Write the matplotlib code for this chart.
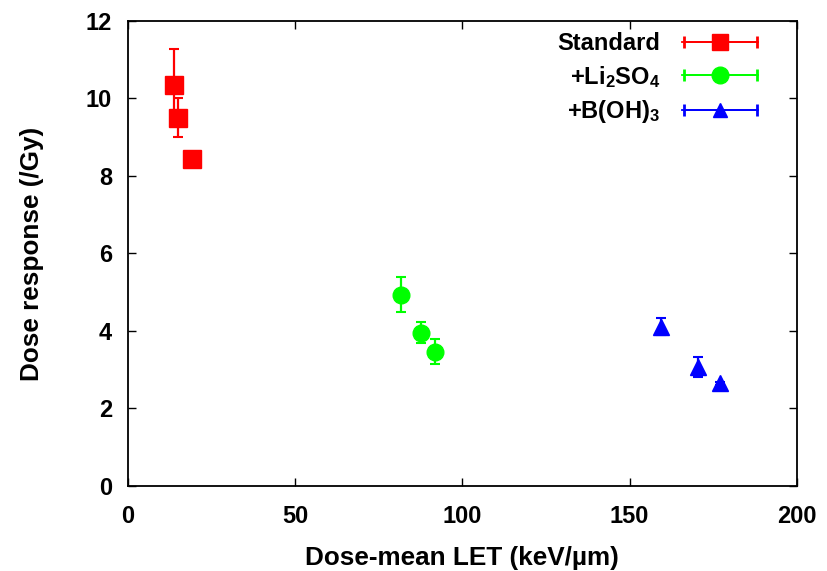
import matplotlib
matplotlib.use("Agg")
import matplotlib.pyplot as plt
from matplotlib.container import ErrorbarContainer
from matplotlib.legend_handler import HandlerErrorbar

plt.rcParams['font.family'] = ['Liberation Sans', 'DejaVu Sans']
plt.rcParams['font.weight'] = 'bold'
plt.rcParams['mathtext.fontset'] = 'custom'
plt.rcParams['mathtext.rm'] = 'Liberation Sans:bold'
plt.rcParams['mathtext.default'] = 'rm'

# Standard
std_let = [14.0, 15.0, 19.4]
std_resp = [10.35, 9.5, 8.45]
std_err = [0.93, 0.5, 0.05]

# +Li2SO4
li_let = [81.6, 87.6, 91.8]
li_resp = [4.94, 3.96, 3.46]
li_err = [0.45, 0.28, 0.32]

# +B(OH)3
b_let = [159.3, 170.4, 177.0]
b_resp = [4.11, 3.07, 2.65]
b_err = [0.22, 0.25, 0.04]

labels = ["Standard", "+Li$_2$SO$_4$", "+B(OH)$_3$"]

fig = plt.figure(figsize=(8.27, 5.71), dpi=100)
ax = fig.add_axes([0.1542, 0.1489, 0.8095, 0.8144])

ax.errorbar(std_let, std_resp, yerr=std_err, fmt="s", color="#ff0000", ms=12.5, capsize=3.5, elinewidth=1.6, capthick=1.5)
ax.errorbar(li_let, li_resp, yerr=li_err, fmt="o", color="#00ff00", ms=12, capsize=3.5, elinewidth=1.6, capthick=1.5)
ax.errorbar(b_let, b_resp, yerr=b_err, fmt="^", color="#0000ff", ms=11, capsize=3.5, elinewidth=1.6, capthick=1.5)

# legend proxies with horizontal bars (gnuplot style), nothing drawn in the axes
nan = float("nan")
h1 = ax.errorbar([nan], [nan], xerr=[nan], fmt="s-", color="#ff0000", ms=12, capsize=4, lw=1.3, capthick=2)
h2 = ax.errorbar([nan], [nan], xerr=[nan], fmt="o-", color="#00ff00", ms=12, capsize=4, lw=1.3, capthick=2)
h3 = ax.errorbar([nan], [nan], xerr=[nan], fmt="^-", color="#0000ff", ms=10, capsize=4, lw=1.3, capthick=2)
ax.legend([h1, h2, h3], labels, loc="upper right", bbox_to_anchor=(0.9417, 0.976),
          frameon=False, markerfirst=False, prop={'size': 17, 'weight': 'bold'},
          handlelength=3.2, handletextpad=0.95, labelspacing=0.36,
          borderpad=0, borderaxespad=0,
          handler_map={ErrorbarContainer: HandlerErrorbar(xerr_size=1.55)})

ax.set_xlim(0, 200)
ax.set_ylim(0, 12)
ax.set_xticks([0, 50, 100, 150, 200])
ax.set_yticks([0, 2, 4, 6, 8, 10, 12])
ax.tick_params(direction="in", top=True, right=True, length=6, width=1, labelsize=17)
ax.tick_params(axis="x", pad=13.5)
ax.tick_params(axis="y", pad=11)
for s in ax.spines.values():
    s.set_linewidth(1.3)
ax.set_xlabel("Dose-mean LET (keV/µm)", fontsize=18.8, fontweight="bold", labelpad=13)
ax.set_ylabel("Dose response (/Gy)", fontsize=18.8, fontweight="bold", labelpad=30)

fig.savefig("out.png", dpi=100, facecolor="white")
